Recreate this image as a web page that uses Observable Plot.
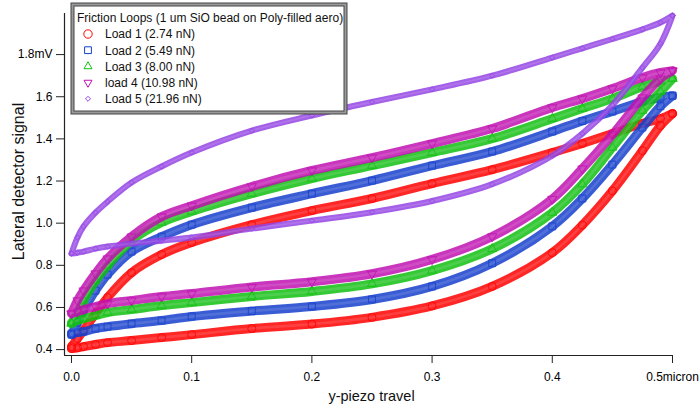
<!DOCTYPE html>
<html><head><meta charset="utf-8">
<script src="https://cdn.jsdelivr.net/npm/d3@7"></script>
<script src="https://cdn.jsdelivr.net/npm/@observablehq/plot@0.6"></script>
<style>
body{margin:0;background:#fff;}
#chart{width:699px;height:406px;}
</style>
</head><body><div id="chart"></div>
<script>
// ---- data ----
const xTravel = [0,0.005,0.01,0.02,0.03,0.05,0.075,0.1,0.15,0.2,0.25,0.3,0.35,0.4,0.425,0.45,0.475,0.49,0.5];

const load1Trace   = [0.414,0.452,0.490,0.571,0.647,0.765,0.851,0.908,0.993,1.060,1.117,1.188,1.254,1.335,1.378,1.425,1.473,1.496,1.520];
const load1Retrace = [0.405,0.409,0.414,0.424,0.433,0.443,0.457,0.471,0.500,0.521,0.553,0.607,0.700,0.860,0.991,1.153,1.344,1.463,1.520];

const load2Trace   = [0.471,0.528,0.585,0.680,0.756,0.865,0.936,0.993,1.074,1.140,1.202,1.273,1.340,1.435,1.485,1.530,1.577,1.596,1.605];
const load2Retrace = [0.476,0.481,0.485,0.500,0.509,0.523,0.538,0.557,0.583,0.605,0.638,0.700,0.810,0.985,1.117,1.278,1.454,1.555,1.605];

const load3Trace   = [0.523,0.576,0.633,0.727,0.799,0.917,1.003,1.055,1.140,1.212,1.273,1.335,1.401,1.496,1.544,1.591,1.648,1.672,1.686];
const load3Retrace = [0.528,0.538,0.547,0.561,0.576,0.590,0.609,0.623,0.652,0.676,0.712,0.775,0.878,1.050,1.185,1.359,1.534,1.624,1.686];

const load4Trace   = [0.571,0.633,0.680,0.761,0.832,0.936,1.031,1.083,1.174,1.250,1.311,1.378,1.449,1.549,1.591,1.639,1.691,1.715,1.724];
const load4Retrace = [0.571,0.580,0.590,0.604,0.618,0.633,0.652,0.666,0.697,0.722,0.760,0.828,0.937,1.115,1.259,1.420,1.596,1.686,1.724];

const load5Trace   = [0.856,0.932,0.984,1.050,1.102,1.193,1.269,1.335,1.439,1.511,1.575,1.635,1.700,1.786,1.830,1.874,1.920,1.952,1.985];
const load5Retrace = [0.856,0.860,0.865,0.879,0.889,0.903,0.917,0.932,0.974,1.012,1.052,1.105,1.185,1.320,1.425,1.560,1.738,1.852,1.985];

const loadNames = ["Load 1 (2.74 nN)","Load 2 (5.49 nN)","Load 3 (8.00 nN)","load 4 (10.98 nN)","Load 5 (21.96 nN)"];
const legendTitle = "Friction Loops (1 um SiO bead on Poly-filled aero)";

const xTicks = [0,0.1,0.2,0.3,0.4,0.5];
const xTickLabels = ["0.0","0.1","0.2","0.3","0.4","0.5micron"];
const yTicks = [0.4,0.6,0.8,1.0,1.2,1.4,1.6,1.8];
const yTickLabels = ["0.4","0.6","0.8","1.0","1.2","1.4","1.6","1.8mV"];

// ---- styles ----
const colors = ["#ff0000","#1640cc","#12c012","#c012b0","#9444e4"];
const sqrt3 = Math.sqrt(3);
const triangleDown = {draw(context, size){
  const y = -Math.sqrt(size / (sqrt3 * 3));
  context.moveTo(0, -y * 2);
  context.lineTo(-sqrt3 * y, y);
  context.lineTo(sqrt3 * y, y);
  context.closePath();
}};
const symbols = ["circle","square","triangle",triangleDown,"diamond2"];
const radii = [4, 3.9, 3.4, 3.4, 2.4];
const bands = [9, 9, 9, 9, 6];

const traces = [load1Trace,load2Trace,load3Trace,load4Trace,load5Trace];
const retraces = [load1Retrace,load2Retrace,load3Retrace,load4Retrace,load5Retrace];

const rows = [];
traces.forEach((tr, i) => {
  xTravel.forEach((x, j) => rows.push({load: i, x, y: tr[j]}));
  for (let j = xTravel.length - 1; j >= 0; j--) rows.push({load: i, x: xTravel[j], y: retraces[i][j]});
});

const marks = [];
for (let i = 0; i < 5; i++) {
  const d = rows.filter(r => r.load === i);
  marks.push(Plot.line(d, {x: "x", y: "y", stroke: colors[i], strokeWidth: bands[i], curve: "catmull-rom", strokeLinejoin: "round", strokeLinecap: "round", strokeOpacity: 0.85}));
  marks.push(Plot.line(d, {x: "x", y: "y", stroke: "white", strokeWidth: bands[i] * 0.3, curve: "catmull-rom", strokeOpacity: 0.12}));
  marks.push(Plot.dot(d, {x: "x", y: "y", symbol: () => symbols[i], r: radii[i], stroke: colors[i], fill: "none", strokeWidth: 1, strokeOpacity: 0.8}));
}

const X0 = -0.0058, X1 = 0.5, Y0 = 0.372, Y1 = 1.995;

const chart = Plot.plot({
  width: 699, height: 406,
  marginLeft: 64, marginRight: 27, marginTop: 13, marginBottom: 51,
  style: {fontFamily: "'Liberation Sans', Arial, Helvetica, sans-serif", background: "white", color: "black"},
  x: {domain: [X0, X1]},
  y: {domain: [Y0, Y1]},
  symbol: {type: "identity"},
  marks: [
    ...marks,
    Plot.ruleX([X0], {stroke: "#222", strokeWidth: 1.2}),
    Plot.ruleY([Y0], {stroke: "#222", strokeWidth: 1.2}),
    Plot.axisX({ticks: xTicks, tickFormat: d => xTickLabels[xTicks.indexOf(d)], tickSize: 8, tickPadding: 9, fontSize: 12, label: null, stroke: "#222"}),
    Plot.axisY({ticks: yTicks, tickFormat: d => yTickLabels[yTicks.findIndex(t => Math.abs(t - d) < 1e-9)], tickSize: 8, tickPadding: 4, fontSize: 12, label: null, stroke: "#222"}),
    Plot.text(["y-piezo travel"], {frameAnchor: "bottom", text: d => d, textAnchor: "middle", lineAnchor: "middle", dx: 3, dy: 41, fontSize: 14.5, fill: "#111"}),
    Plot.text(["Lateral detector signal"], {frameAnchor: "left", text: d => d, textAnchor: "middle", lineAnchor: "middle", rotate: -90, dx: -46, dy: -3, fontSize: 16, fill: "#111"})
  ]
});
document.getElementById("chart").appendChild(chart);

// ---- legend box ----
const svg = d3.select(chart);
const lg = svg.append("g").attr("font-family", "'Liberation Sans', Arial, Helvetica, sans-serif").attr("font-size", 12).attr("text-anchor", "start");
lg.append("rect").attr("x", 72.5).attr("y", 4.5).attr("width", 273).attr("height", 108).attr("fill", "white").attr("stroke", "#9a9a9a").attr("stroke-width", 3);
lg.append("rect").attr("x", 71).attr("y", 3).attr("width", 276).attr("height", 111).attr("fill", "none").attr("stroke", "#444").attr("stroke-width", 1);
lg.append("rect").attr("x", 74).attr("y", 6).attr("width", 270).attr("height", 105).attr("fill", "none").attr("stroke", "#444").attr("stroke-width", 1);
lg.append("text").attr("x", 77).attr("y", 22).attr("fill", "#111").attr("text-anchor", "start").text(legendTitle);
const legSyms = [d3.symbolCircle, d3.symbolSquare, d3.symbolTriangle, triangleDown, d3.symbolDiamond2];
const legSizes = [55, 46, 28, 28, 16];
loadNames.forEach((name, i) => {
  const cy = 34 + i * 16.2;
  lg.append("path").attr("d", d3.symbol().type(legSyms[i]).size(legSizes[i])())
    .attr("transform", `translate(88,${cy})`).attr("fill", "none").attr("stroke", colors[i]).attr("stroke-width", 1);
  lg.append("text").attr("x", 105).attr("y", cy + 4.3).attr("fill", "#111").attr("text-anchor", "start").text(name);
});
</script>
</body></html>
